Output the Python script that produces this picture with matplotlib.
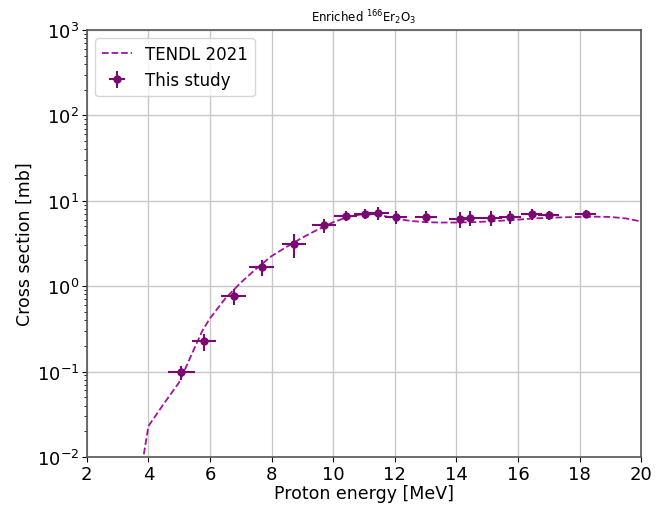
import matplotlib
matplotlib.use("Agg")
import matplotlib.pyplot as plt
import numpy as np

# TENDL 2021 curve
tendl_e = [3.7, 4.0, 4.5, 5.0, 5.5, 5.75, 6.0, 6.5, 7.0, 7.5, 8.0, 8.5, 9.0, 9.5, 10.0, 10.5,
           11.0, 11.5, 12.0, 12.5, 13.0, 13.5, 14.0, 14.5, 15.0, 15.5, 16.0, 16.5, 17.0,
           17.5, 18.0, 18.5, 19.0, 19.5, 20.0]
tendl_xs = [0.005, 0.023, 0.042, 0.075, 0.19, 0.30, 0.42, 0.72, 1.1, 1.6, 2.25, 2.9, 3.7, 4.6,
            5.6, 6.5, 7.0, 6.8, 6.2, 5.8, 5.6, 5.55, 5.55, 5.6, 5.7, 5.85, 6.0, 6.2, 6.3,
            6.4, 6.45, 6.5, 6.45, 6.2, 5.7]

# This study
exp_e = [5.07, 5.8, 6.77, 7.68, 8.73, 9.7, 10.4, 11.03, 11.44, 12.05, 13.0, 14.12, 14.43,
         15.12, 15.74, 16.45, 17.0, 18.2]
exp_de = [0.45, 0.4, 0.41, 0.4, 0.38, 0.38, 0.37, 0.36, 0.36, 0.36, 0.36, 0.35, 0.35,
          0.35, 0.35, 0.34, 0.34, 0.34]
exp_xs = [0.098, 0.225, 0.76, 1.67, 3.1, 5.13, 6.64, 7.08, 7.2, 6.46, 6.53, 6.08, 6.3,
          6.3, 6.46, 6.9, 6.82, 7.08]
exp_dxs = [0.018, 0.05, 0.16, 0.35, 0.95, 0.95, 0.9, 0.9, 1.2, 1.1, 1.1, 1.3, 1.3,
           1.2, 1.1, 1.0, 0.8, 0.7]

fig = plt.figure(figsize=(6.68, 5.06), dpi=100)
ax = fig.add_axes([0.13, 0.095, 0.83, 0.844])

ax.plot(tendl_e, tendl_xs, linestyle='--', color='#a3139f', lw=1.3, label='TENDL 2021')
ax.errorbar(exp_e, exp_xs, xerr=exp_de, yerr=exp_dxs, fmt='o', color='#7a0a72',
            ms=5, elinewidth=1.5, capsize=0, label='This study')

ax.set_yscale('log')
ax.set_xlim(2, 20)
ax.set_ylim(1e-2, 1e3)
ax.set_xticks(np.arange(2, 21, 2))
ax.grid(True, which='major', color='#c8c8c8', lw=1.0)
ax.set_axisbelow(True)
ax.tick_params(labelsize=13, pad=2)
ax.set_xlabel('Proton energy [MeV]', fontsize=12.5, labelpad=1)
ax.set_ylabel('Cross section [mb]', fontsize=12.5, labelpad=2)
ax.set_title('Enriched $^{166}$Er$_2$O$_3$', fontsize=8.5)
for s in ax.spines.values():
    s.set_color('#555555')
    s.set_linewidth(1.2)
ax.legend(loc='upper left', fontsize=12, handlelength=1.8)

fig.savefig('out.png', dpi=100)
